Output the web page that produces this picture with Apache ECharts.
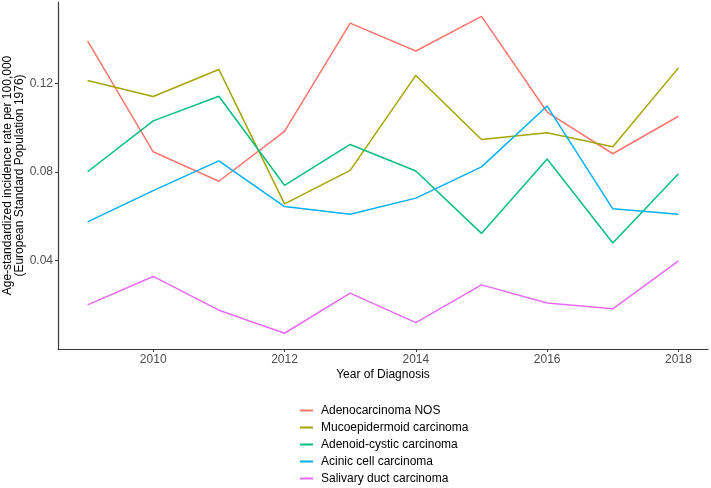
<!DOCTYPE html>
<html>
<head>
<meta charset="utf-8">
<script src="https://cdn.jsdelivr.net/npm/echarts@6/dist/echarts.min.js"></script>
<style>
html,body{margin:0;padding:0;background:#fff;}
#chart{width:711px;height:488px;}
</style>
</head>
<body>
<div id="chart"></div>
<script>
const years = [2009, 2010, 2011, 2012, 2013, 2014, 2015, 2016, 2017, 2018];
const seriesNames = ["Adenocarcinoma NOS", "Mucoepidermoid carcinoma", "Adenoid-cystic carcinoma", "Acinic cell carcinoma", "Salivary duct carcinoma"];
const adenocarcinomaNOS = [0.1391, 0.0891, 0.0758, 0.0983, 0.1471, 0.1345, 0.1501, 0.1070, 0.0882, 0.1051];
const mucoepidermoid = [0.1212, 0.1140, 0.1262, 0.0656, 0.0807, 0.1235, 0.0946, 0.0977, 0.0914, 0.1269];
const adenoidCystic = [0.0801, 0.1030, 0.1141, 0.0740, 0.0924, 0.0804, 0.0523, 0.0858, 0.0480, 0.0792];
const acinicCell = [0.0575, 0.0716, 0.0850, 0.0644, 0.0609, 0.0682, 0.0823, 0.1097, 0.0634, 0.0609];
const salivaryDuct = [0.0201, 0.0329, 0.0177, 0.0073, 0.0254, 0.0121, 0.0291, 0.0209, 0.0183, 0.0399];
const xTicks = [2010, 2012, 2014, 2016, 2018];
const yTicks = [0.04, 0.08, 0.12];
const colors = ["#F8766D", "#A3A500", "#00BF7D", "#00B0F6", "#E76BF3"];

const allValues = [adenocarcinomaNOS, mucoepidermoid, adenoidCystic, acinicCell, salivaryDuct];

const chart = echarts.init(document.getElementById('chart'), null, {renderer: 'canvas'});
const font = "'Liberation Sans', Arial, sans-serif";

chart.setOption({
  animation: false,
  backgroundColor: '#ffffff',
  grid: {left: 58, right: 3, top: 2, bottom: 139, containLabel: false, outerBoundsMode: 'none'},
  xAxis: {
    type: 'value',
    min: 2008.55,
    max: 2018.45,
    name: 'Year of Diagnosis',
    nameLocation: 'middle',
    nameGap: 20,
    nameMoveOverlap: false,
    nameTextStyle: {fontFamily: font, fontSize: 12, color: '#000'},
    axisLine: {show: true, lineStyle: {color: '#3a3a3a', width: 1.2}},
    axisTick: {show: true, length: 3, customValues: xTicks, lineStyle: {color: '#3a3a3a', width: 1}},
    axisLabel: {show: true, customValues: xTicks, margin: 5, fontFamily: font, fontSize: 12, color: '#4D4D4D',
      formatter: v => String(v)},
    splitLine: {show: false}
  },
  yAxis: {
    type: 'value',
    min: 0.0002,
    max: 0.1566,
    name: 'Age-standardized incidence rate per 100,000\n(European Standard Population 1976)',
    nameLocation: 'middle',
    nameRotate: 90,
    nameGap: 32,
    nameMoveOverlap: false,
    nameTextStyle: {fontFamily: font, fontSize: 12, color: '#000', lineHeight: 12, align: 'center'},
    axisLine: {show: true, lineStyle: {color: '#3a3a3a', width: 1.2}},
    axisTick: {show: true, length: 3, customValues: yTicks, lineStyle: {color: '#3a3a3a', width: 1}},
    axisLabel: {show: true, customValues: yTicks, margin: 5, fontFamily: font, fontSize: 12, color: '#4D4D4D',
      formatter: v => v.toFixed(2)},
    splitLine: {show: false}
  },
  legend: {
    orient: 'vertical',
    left: 300,
    top: 404,
    padding: 0,
    height: 84,
    icon: 'rect',
    itemWidth: 13,
    itemHeight: 2,
    itemGap: 4,
    textStyle: {fontFamily: font, fontSize: 12, color: '#000', lineHeight: 13, padding: [0, 0, 0, 3]},
    data: seriesNames
  },
  series: seriesNames.map((name, i) => ({
    name: name,
    type: 'line',
    showSymbol: false,
    symbol: 'none',
    color: colors[i],
    lineStyle: {width: 1.5, color: colors[i]},
    data: years.map((y, j) => [y, allValues[i][j]])
  }))
});
</script>
</body>
</html>
